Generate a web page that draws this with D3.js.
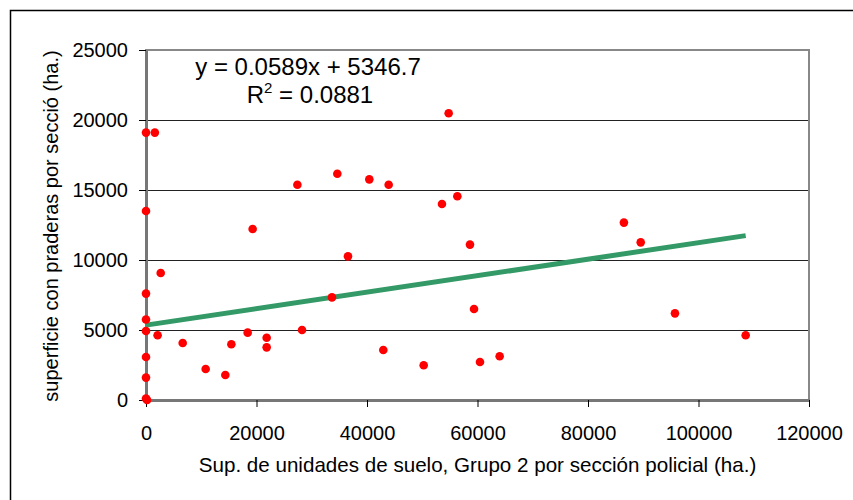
<!DOCTYPE html>
<html>
<head>
<meta charset="utf-8">
<script src="https://cdn.jsdelivr.net/npm/d3@7"></script>
<style>
  body { margin: 0; background: #fff; }
  svg { font-family: "Liberation Sans", Arial, sans-serif; }
</style>
</head>
<body>
<div id="graph_draw"></div>
<script>
// data: x = Sup. unidades de suelo (ha.), y = superficie con praderas (ha.)
var xValues = [0, 1600, 0, 0, 0, 0, 2100, 2660, 6640, 0, 0, 0, 200, 10800, 14360, 15450, 18400, 19300,
               21840, 21840, 27400, 28240, 33660, 34630, 36560, 40420, 42950, 43920, 50260, 53570,
               54780, 56350, 58640, 59370, 60450, 64010, 86500, 89540, 95740, 108540];
var yValues = [19100, 19100, 13500, 7600, 5750, 4930, 4620, 9070, 4070, 3070, 1600, 100, 0, 2210, 1790, 3980, 4810, 12210,
               4450, 3760, 15380, 5000, 7330, 16160, 10260, 15760, 3570, 15380, 2480, 14000,
               20480, 14550, 11100, 6500, 2710, 3120, 12670, 11260, 6190, 4620];
var xTicks = [0, 20000, 40000, 60000, 80000, 100000, 120000];
var yTicks = [0, 5000, 10000, 15000, 20000, 25000];
// trend line as printed on the chart
var slope = 0.0589, intercept = 5346.7;

var W = 853, H = 500;
var margin = {top: 50, right: 44, bottom: 100, left: 146},
    width = W - margin.left - margin.right,
    height = H - margin.top - margin.bottom;

var svg = d3.select("#graph_draw").append("svg")
    .attr("width", W)
    .attr("height", H);

// outer chart frame (runs off the picture on the right / bottom)
svg.append("rect")
    .attr("x", 10.5).attr("y", 10.5)
    .attr("width", 1000).attr("height", 1000)
    .attr("fill", "none")
    .attr("stroke", "#000")
    .attr("stroke-width", 1.5);

var g = svg.append("g")
    .attr("transform", "translate(" + margin.left + "," + margin.top + ")");

var x = d3.scaleLinear().domain([0, 120000]).range([0, width]);
var y = d3.scaleLinear().domain([0, 25000]).range([height, 0]);

// grid lines
g.selectAll(".grid")
    .data(yTicks.filter(function(d) { return d > 0 && d < 25000; }))
    .enter().append("line")
    .attr("x1", 0).attr("x2", width)
    .attr("y1", function(d) { return Math.round(y(d)) + 0.5; })
    .attr("y2", function(d) { return Math.round(y(d)) + 0.5; })
    .attr("stroke", "#222")
    .attr("stroke-width", 1);

// plot area border
g.append("rect")
    .attr("x", 0).attr("y", 0)
    .attr("width", width).attr("height", height)
    .attr("fill", "none")
    .attr("stroke", "#888")
    .attr("stroke-width", 2);

// Add the X Axis
var xAxis = g.append("g")
    .attr("transform", "translate(0," + height + ")")
    .call(d3.axisBottom(x).tickValues(xTicks).tickFormat(d3.format("d")).tickSize(7).tickPadding(19).tickSizeOuter(0));

// Add the Y Axis
var yAxis = g.append("g")
    .call(d3.axisLeft(y).tickValues(yTicks).tickFormat(d3.format("d")).tickSize(7).tickPadding(11).tickSizeOuter(0));

[xAxis, yAxis].forEach(function(a) {
    a.select(".domain").attr("stroke", "#777").attr("stroke-width", 3);
    a.selectAll(".tick line").attr("stroke", "#000");
    a.selectAll(".tick text").attr("fill", "#000").style("font-size", "20px")
        .style("font-family", "'Liberation Sans', Arial, sans-serif");
});

// trend line
var xMin = d3.min(xValues), xMax = d3.max(xValues);
var trend = d3.line()
    .x(function(d) { return x(d); })
    .y(function(d) { return y(slope * d + intercept); });
g.append("path")
    .datum([xMin, xMax])
    .attr("d", trend)
    .attr("fill", "none")
    .attr("stroke", "#339966")
    .attr("stroke-width", 5);

// points
g.selectAll(".dot")
    .data(xValues)
    .enter().append("circle")
    .attr("cx", function(d) { return x(d); })
    .attr("cy", function(d, i) { return y(yValues[i]); })
    .attr("r", 4.3)
    .attr("fill", "#ff0000");

// equation
g.append("text")
    .attr("x", 162).attr("y", 25)
    .attr("text-anchor", "middle")
    .style("font-size", "24px")
    .text("y = 0.0589x + 5346.7");
var r2 = g.append("text")
    .attr("x", 164).attr("y", 53)
    .attr("text-anchor", "middle")
    .style("font-size", "24px");
r2.append("tspan").text("R");
r2.append("tspan").attr("dy", -10).style("font-size", "15px").text("2");
r2.append("tspan").attr("dy", 10).text(" = 0.0881");

// axis titles
svg.append("text")
    .attr("x", margin.left + width / 2).attr("y", 472)
    .attr("text-anchor", "middle")
    .style("font-size", "20.6px")
    .text("Sup. de unidades de suelo, Grupo 2 por sección policial (ha.)");

svg.append("text")
    .attr("transform", "translate(58,226) rotate(-90)")
    .attr("text-anchor", "middle")
    .style("font-size", "20px")
    .text("superficie con praderas por secció (ha.)");
</script>
</body>
</html>
